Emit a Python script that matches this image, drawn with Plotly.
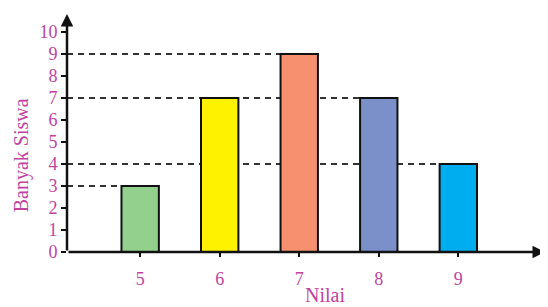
import plotly.graph_objects as go

nilai = [5, 6, 7, 8, 9]
banyak_siswa = [3, 7, 9, 7, 4]
bar_colors = ["#93d08e", "#fff200", "#f6906f", "#7b8fc8", "#00aeef"]
y_ticks = list(range(0, 11))

BAR_W = 0.47
X0, X1 = 4.08, 10.09
Y0, Y1 = 0, 10.82
PINK = "#c2429f"
FONT = "Liberation Serif, Times New Roman, serif"

fig = go.Figure()

# dashed reference lines: from y axis to left edge of rightmost bar with that value
for v in sorted(set(banyak_siswa)):
    xs = [x for x, y in zip(nilai, banyak_siswa) if y == v]
    fig.add_shape(type="line", xref="x", yref="y", x0=X0, x1=max(xs) - BAR_W / 2,
                  y0=v, y1=v, layer="below",
                  line=dict(color="#333333", width=2, dash="6px,5px"))

fig.add_trace(go.Bar(x=nilai, y=banyak_siswa, width=BAR_W,
                     marker=dict(color=bar_colors, line=dict(color="#111111", width=2)),
                     hoverinfo="x+y"))

# axes with arrows
fig.add_annotation(x=X1, y=0, ax=X0, ay=0, xref="x", yref="y", axref="x", ayref="y",
                   showarrow=True, arrowhead=2, arrowsize=1, arrowwidth=2.5,
                   arrowcolor="#111111", text="")
fig.add_annotation(x=X0, y=Y1, ax=X0, ay=0, xref="x", yref="y", axref="x", ayref="y",
                   showarrow=True, arrowhead=2, arrowsize=1, arrowwidth=2.5,
                   arrowcolor="#111111", text="")

# axis titles
fig.add_annotation(text="Banyak Siswa", textangle=-90, showarrow=False,
                   xref="paper", x=0, xshift=-46, xanchor="center",
                   yref="y", y=4.4, yanchor="middle",
                   font=dict(family=FONT, color=PINK, size=20))
fig.add_annotation(text="Nilai", showarrow=False,
                   xref="x", x=7.33, xanchor="center",
                   yref="y", y=0, yshift=-43, yanchor="middle",
                   font=dict(family=FONT, color=PINK, size=20))

# page body has an 8px margin: figure is sized/placed to compensate
fig.update_layout(
    width=540, height=299,
    margin=dict(l=59, r=3, t=6, b=55),
    paper_bgcolor="white", plot_bgcolor="white",
    showlegend=False,
    font=dict(family=FONT, color=PINK, size=18),
    xaxis=dict(range=[X0, X1], tickvals=nilai, ticktext=[str(n) for n in nilai],
               automargin=False,
               showgrid=False, zeroline=False, showline=False,
               ticks="outside", ticklen=4, tickwidth=2, tickcolor="#111111",
               ticklabelstandoff=6,
               tickfont=dict(family=FONT, color=PINK, size=18)),
    yaxis=dict(range=[Y0, Y1], tickvals=y_ticks, ticktext=[str(t) for t in y_ticks],
               automargin=False,
               showgrid=False, zeroline=False, showline=False,
               ticks="outside", ticklen=5, tickwidth=2, tickcolor="#111111",
               tickfont=dict(family=FONT, color=PINK, size=18)),
)

fig.write_html("out.html")
